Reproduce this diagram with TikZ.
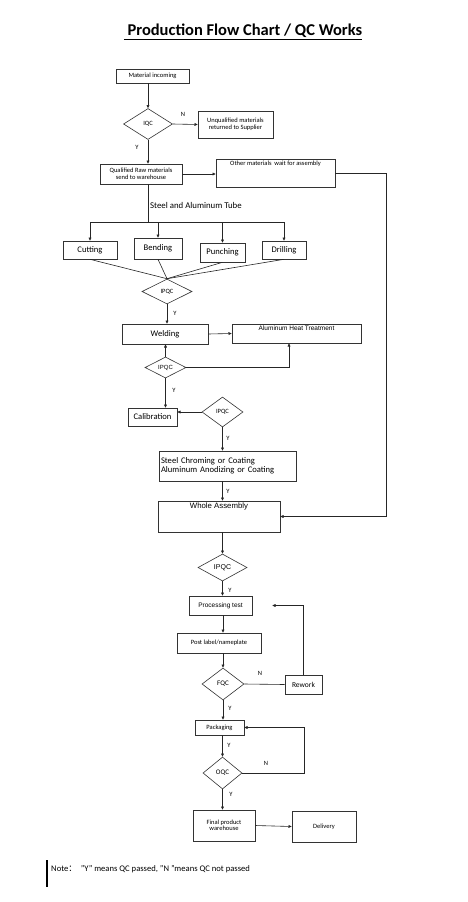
\documentclass[tikz,border=0pt]{standalone}
\usepackage{fontspec}
\setmainfont{Carlito}
\newfontfamily\arialf{Liberation Sans}
\newfontfamily\cjk{Noto Sans CJK SC}
\usetikzlibrary{arrows.meta, shapes.geometric}
\newcommand{\fs}[1]{\fontsize{#1}{#1pt}\selectfont}
\tikzset{
  box/.style 2 args={draw=black!80, line width=0.6pt, inner sep=1pt, align=center,
              minimum width=#1pt, minimum height=#2pt, font=\fs{6.5}},
  qc/.style 2 args={draw=black!80, line width=0.6pt, diamond, aspect=1, inner sep=0pt,
              minimum width=#1pt, minimum height=#2pt, font=\fs{6.5}},
  toplbl/.style={anchor=north, inner sep=2pt},
  sig/.style={-{Triangle[length=3.2pt, width=2.8pt]}, line width=0.6pt, black!85},
  wire/.style={line width=0.6pt, black!85},
  yn/.style={inner sep=0pt, font=\fs{6.5}},
}

\begin{document}
\begin{tikzpicture}[x=1pt, y=-1pt]
  \fill[white] (0,0) rectangle (468,902);
  \useasboundingbox (0,0) rectangle (468,902);
  \node[font=\fs{16.5}\bfseries] (title) at (243,32) {\underline{\ Production Flow Chart / QC Works}};

  % incoming material
  \node[box={73}{14}] (inc) at (152.5,76) {Material incoming};
  \node[qc={49}{31}] (iqc) at (148,124) {IQC};
  \node[box={75}{27}] (unq) at (235.5,124.5) {Unqualified materials\\returned to Supplier};
  \node[box={82}{20}] (qual) at (141,174) {Qualified Raw materials\\send to warehouse};
  \node[box={119}{28}, label={[toplbl, font=\fs{6.5}]north:Other materials\ \ wait for assembly}] (other) at (275.5,173) {};

  % machining
  \node[box={54}{18}, font=\fs{8.6}] (cut)   at (90,250)    {Cutting};
  \node[box={48}{21}, font=\fs{8.6}] (bend)  at (158,248.5) {Bending};
  \node[box={45}{19}, font=\fs{8.6}] (punch) at (222.5,252.5) {Punching};
  \node[box={44}{18}, font=\fs{8.6}] (drill) at (284,250)   {Drilling};
  \node[qc={50}{25}] (ipqc1) at (167,291.5) {IPQC};

  % welding and heat treatment
  \node[box={86}{20}, font=\fs{8.6}] (weld) at (165,334) {Welding};
  \node[box={129}{19}, label={[toplbl, font=\arialf\fs{6.5}]north:Aluminum Heat Treatment}] (heat) at (296.5,333.5) {};
  \node[qc={41}{21}, font=\arialf\fs{6}] (ipqc2) at (165.5,367.5) {IPQC};
  \node[box={49}{18}, font=\fs{8.6}] (calib) at (152.5,417) {Calibration};
  \node[qc={41}{30}] (ipqc3) at (222.5,412) {IPQC};
  \node[box={137}{30}, font=\fs{8.6}, align=left, text width=133pt] (coat) at (227.5,466)
    {Steel Chroming or Coating\\Aluminum Anodizing or Coating};

  % assembly and tests
  \node[box={122}{31}, label={[toplbl, font=\arialf\fs{7.8}]north:Whole Assembly}] (whole) at (219,516.5) {};
  \node[qc={49}{27}, font=\arialf\fs{7}] (ipqc4) at (222.5,567.5) {IPQC};
  \node[box={63}{19}, font=\arialf\fs{6.5}] (test) at (220.5,605.5) {Processing test};
  \node[box={84}{20}] (post) at (219,643) {Post label/nameplate};
  \node[qc={42}{32}, font=\fs{7}] (fqc) at (223,684) {FQC};
  \node[box={37}{19}, font=\fs{7.5}] (rework) at (303.5,684.5) {Rework};
  \node[box={49}{15}] (pack) at (219.5,727.5) {Packaging};
  \node[qc={39}{32}, font=\fs{7}] (oqc) at (222.5,773) {OQC};
  \node[box={62}{31}] (final) at (224,825.5) {Final product\\warehouse};
  \node[box={64}{31}] (deliv) at (324,826.5) {Delivery};

  \coordinate (bus) at (148,222);
  \coordinate (rtop) at (386,173);

  \draw[sig] (inc.south -| iqc.north) -- (iqc.north);
  \draw[sig] (iqc.east) -- (unq.west);
  \draw[sig] (iqc.south) -- (iqc.south |- qual.north);
  \draw[sig] (qual.east) -- (qual.east -| other.west);
  \draw[sig] (other.east) -- (rtop) |- (whole.east);
  \draw[wire] (qual.south -| bus) -- (bus);
  \draw[wire] (bus -| cut.north) -- (bus -| drill.north);
  \foreach \n in {cut, bend, punch, drill} {
    \draw[sig] (bus -| \n.north) -- (\n.north);
    \draw[wire] (\n.south) -- (ipqc1.north);
  }
  \draw[sig] (ipqc1.south) -- (ipqc1.south |- weld.north);
  \draw[sig] (weld.east) -- (heat.west);
  \draw[sig] (ipqc2.north) -- (ipqc2.north |- weld.south);
  \draw[sig] (ipqc2.east) -| ([xshift=-7.5pt]heat.south);
  \draw[sig] (ipqc2.south) -- (ipqc2.south |- calib.north);
  \draw[sig] (ipqc3.west) -- (ipqc3.west -| calib.east);
  \draw[sig] (ipqc3.south) -- (ipqc3.south |- coat.north);
  \draw[sig] (ipqc4.north |- coat.south) -- (ipqc4.north |- whole.north);
  \draw[sig] (ipqc4.north |- whole.south) -- (ipqc4.north);
  \draw[sig] (ipqc4.south) -- (ipqc4.south |- test.north);
  \draw[sig] (fqc.north |- test.south) -- (fqc.north |- post.north);
  \draw[sig] (fqc.north |- post.south) -- (fqc.north);
  \draw[wire] (fqc.east) -- (rework.west);
  \draw[sig, shorten >=20pt] (rework.north) |- (test.east);
  \draw[sig] (fqc.south) -- (fqc.south |- pack.north);
  \draw[sig] (oqc.north |- pack.south) -- (oqc.north);
  \draw[sig] (oqc.east) -- ++(62,0) |- (pack.east);
  \draw[sig] (oqc.south) -- (oqc.south |- final.north);
  \draw[sig] (final.east) -- (deliv.west);

  % Y / N marks
  \node[yn] (n1) at (183,114) {N};
  \node[yn] (y1) at (137,147) {Y};
  \node[anchor=west, inner sep=0pt, font=\fs{8.8}] (tube) at (150,205) {Steel and Aluminum Tube};
  \node[yn] (y2) at (175,313) {Y};
  \node[yn] (y3) at (174,390) {Y};
  \node[yn] (y4) at (228,438) {Y};
  \node[yn] (y5) at (228,491) {Y};
  \node[yn] (y6) at (230,590) {Y};
  \node[yn] (n2) at (260,673) {N};
  \node[yn] (y7) at (230,708) {Y};
  \node[yn] (y8) at (229,745) {Y};
  \node[yn] (n3) at (266,763) {N};
  \node[yn] (y9) at (231,794) {Y};

  % note
  \node[anchor=west, inner sep=0pt, font=\fs{8.6}] (note) at (51,869)
    {Note{\cjk ：}\ \ "Y" means QC passed, "N "means QC not passed};
  \draw[line width=1.4pt] (47,860) -- (47,887);
\end{tikzpicture}
\end{document}
